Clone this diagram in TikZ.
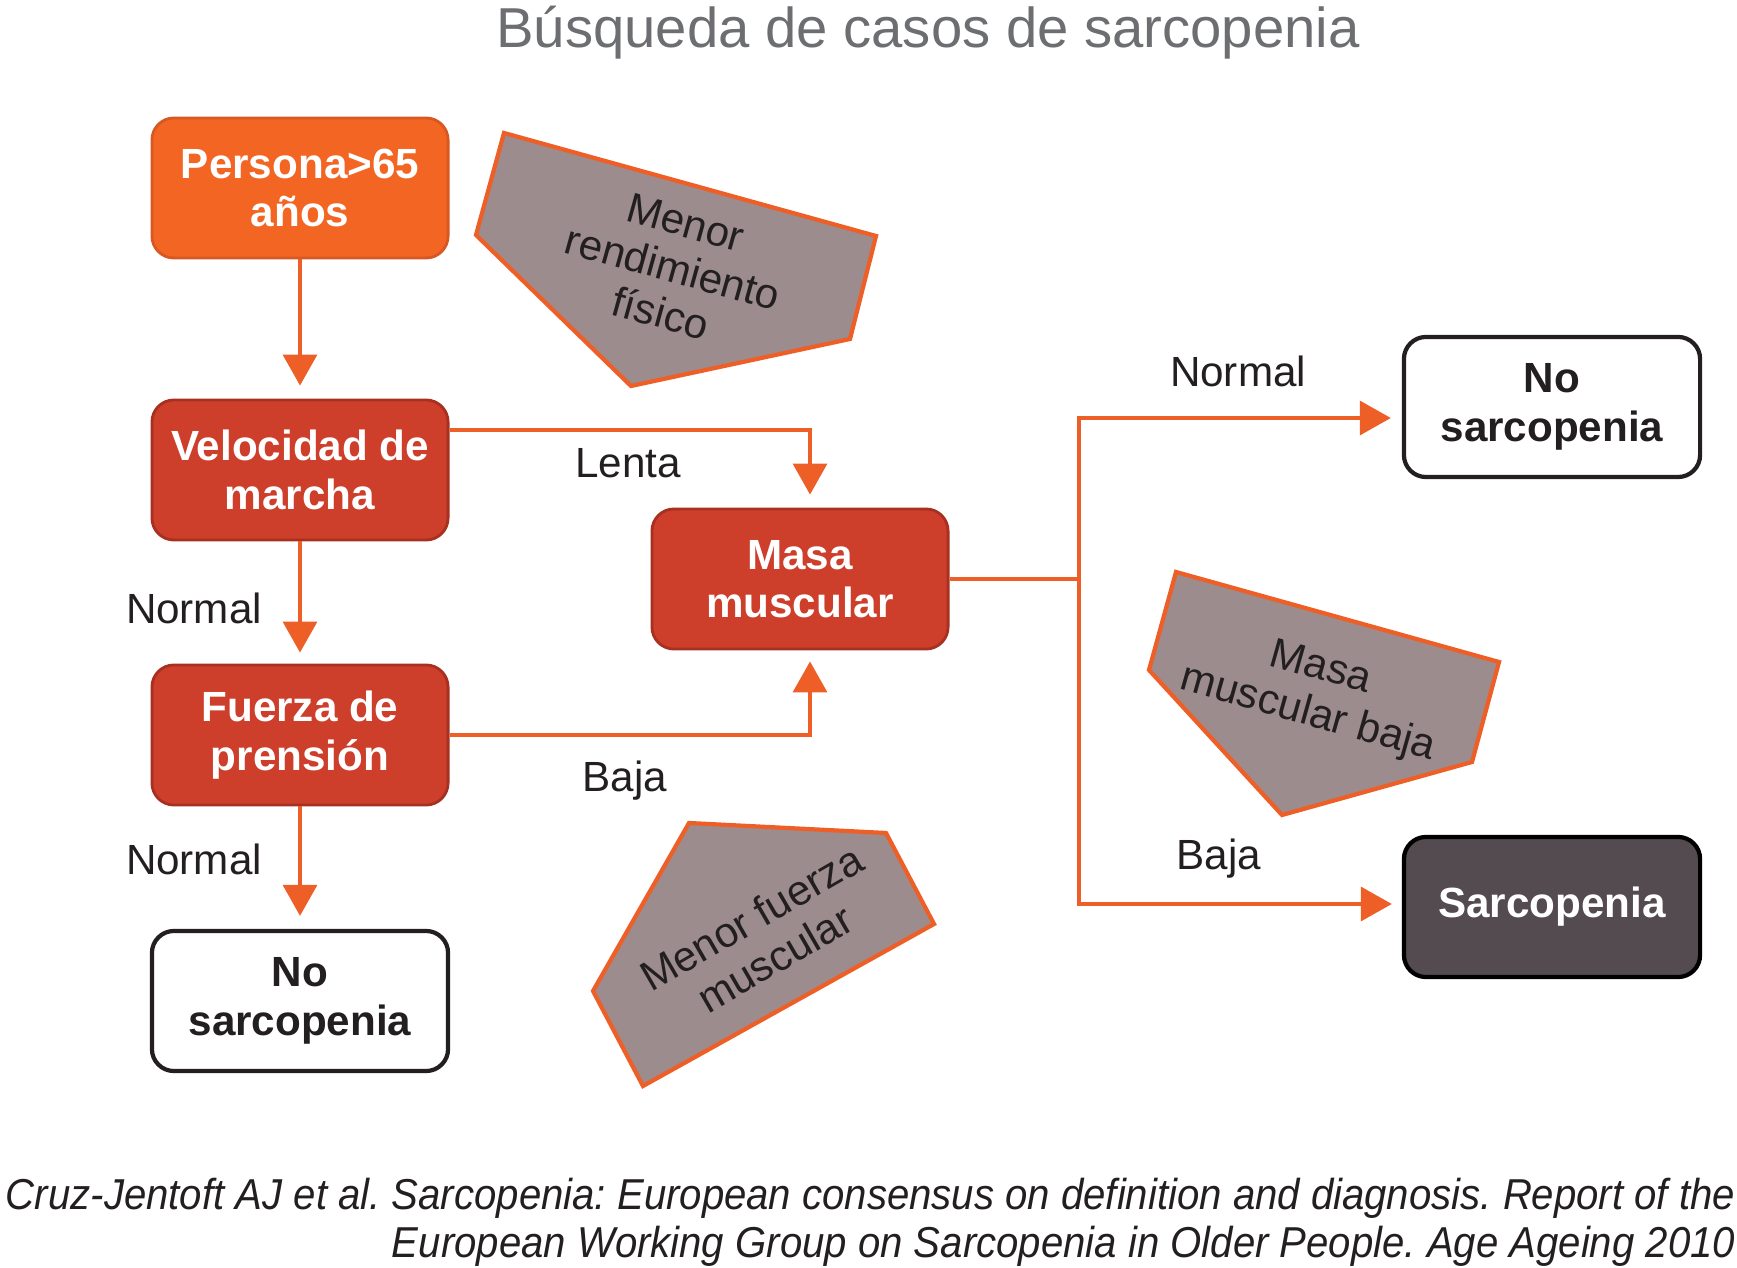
\documentclass[tikz,border=0pt]{standalone}
\usepackage{fontspec}
\setmainfont{Liberation Sans}
\newfontfamily\notefont[FakeStretch=0.928]{Liberation Sans}
\usetikzlibrary{arrows.meta, positioning, calc}
\definecolor{startorange}{RGB}{242, 101, 34}
\definecolor{startedge}{RGB}{216, 88, 36}
\definecolor{testred}{RGB}{205, 62, 43}
\definecolor{testedge}{RGB}{168, 48, 32}
\definecolor{arroworange}{RGB}{238, 95, 40}
\definecolor{pentfill}{RGB}{156, 140, 141}
\definecolor{sarcdark}{RGB}{83, 75, 79}
\definecolor{titlegray}{RGB}{109, 110, 113}
\definecolor{inkblack}{RGB}{35, 31, 32}

\begin{document}
\frenchspacing
\begin{tikzpicture}[
    x=0.01cm, y=-0.01cm,
    startbox/.style={rectangle, rounded corners=0.22cm, draw=startedge, fill=startorange, line width=0.8pt, minimum width=2.96cm, minimum height=1.40cm, font=\fontsize{12}{13.8}\selectfont\bfseries, text=white, align=center},
    testbox/.style={startbox, draw=testedge, fill=testred},
    nobox/.style={startbox, draw=inkblack, fill=white, line width=1.2pt, text=inkblack},
    sarcbox/.style={startbox, draw=black, fill=sarcdark, line width=1.2pt},
    pent/.style={draw=arroworange, fill=pentfill, line width=1.2pt, line join=miter},
    pentlabel/.style={font=\fontsize{12}{13.4}\selectfont, text=inkblack, align=center, inner sep=0pt},
    lbl/.style={font=\fontsize{12}{14}\selectfont, text=inkblack, inner sep=0pt},
    line/.style={draw=arroworange, line width=1pt},
    arr/.style={line, -{Triangle[length=0.31cm, width=0.34cm]}},
]
\useasboundingbox (0,0) rectangle (1737,1268);

% titulo
\node[font=\fontsize{16}{18}\selectfont, text=titlegray] (titulo) at (928,33) {Búsqueda de casos de sarcopenia};

% pentagonos
\draw[pent] (504,133) -- (876,236) -- (850,339) -- (631,386) -- (476,235) -- cycle;
\draw[pent] (1176,572) -- (1499,662) -- (1472,762) -- (1282,815) -- (1149,670) -- cycle;
\draw[pent] (689,823) -- (886,833) -- (934,924) -- (643,1086) -- (593,991) -- cycle;
\node[pentlabel, rotate=-15.5] (lbrend) at (673,268) {Menor\\rendimiento\\físico};
\node[pentlabel, rotate=-15.7] (lbmasa) at (1314,692) {Masa\\muscular baja};
\node[pentlabel, rotate=30] (lbfuerza) at (763,938) {Menor fuerza\\muscular};

% cajas
\node[startbox] (persona)   at (300,188)  {Persona>65\\años};
\node[testbox]  (velocidad) at (300,470)  {Velocidad de\\marcha};
\node[testbox]  (fuerza)    at (300,735)  {Fuerza de\\prensión};
\node[nobox]    (nosarcA)   at (300,1001) {No\\sarcopenia};
\node[testbox]  (masa)      at (800,579)  {Masa\\muscular};
\node[nobox]    (nosarcB)   at (1552,407) {No\\sarcopenia};
\node[sarcbox]  (sarc)      at (1552,907) {Sarcopenia};

% flechas columna izquierda
\draw[arr, shorten >=0.13cm] (persona.south) -- (velocidad.north);
\draw[arr, shorten >=0.11cm] (velocidad.south) -- (fuerza.north);
\draw[arr, shorten >=0.13cm] (fuerza.south) -- (nosarcA.north);

% hacia masa muscular
\draw[arr, shorten >=0.13cm] ([yshift=0.4cm]velocidad.east) -| ([xshift=0.1cm]masa.north);
\draw[arr, shorten >=0.11cm] (fuerza.east) -| ([xshift=0.1cm]masa.south);

% salida de masa muscular
\coordinate (split) at (1079,579);
\draw[line] (masa.east) -- (split);
\draw[arr, shorten >=0.11cm] (split) |- ([yshift=-0.11cm]nosarcB.west);
\draw[arr, shorten >=0.10cm] (split) |- ([yshift=0.03cm]sarc.west);

% etiquetas
\node[lbl] (lenta)   at (628,463)  {Lenta};
\node[lbl] (normA)   at (194,608)  {Normal};
\node[lbl] (bajaA)   at (625,781)  {Baja};
\node[lbl] (normB)   at (194,859)  {Normal};
\node[lbl] (normC)   at (1238,371) {Normal};
\node[lbl] (bajaB)   at (1219,859) {Baja};

% referencia
\node[font=\notefont\itshape\fontsize{12.3}{13.6}\selectfont, text=inkblack, align=right, anchor=east, inner sep=0pt] (ref) at (1736,1222)
  {Cruz-Jentoft AJ et al. Sarcopenia: European consensus on definition and diagnosis. Report of the\\European Working Group on Sarcopenia in Older People. Age Ageing 2010};

\end{tikzpicture}
\end{document}
